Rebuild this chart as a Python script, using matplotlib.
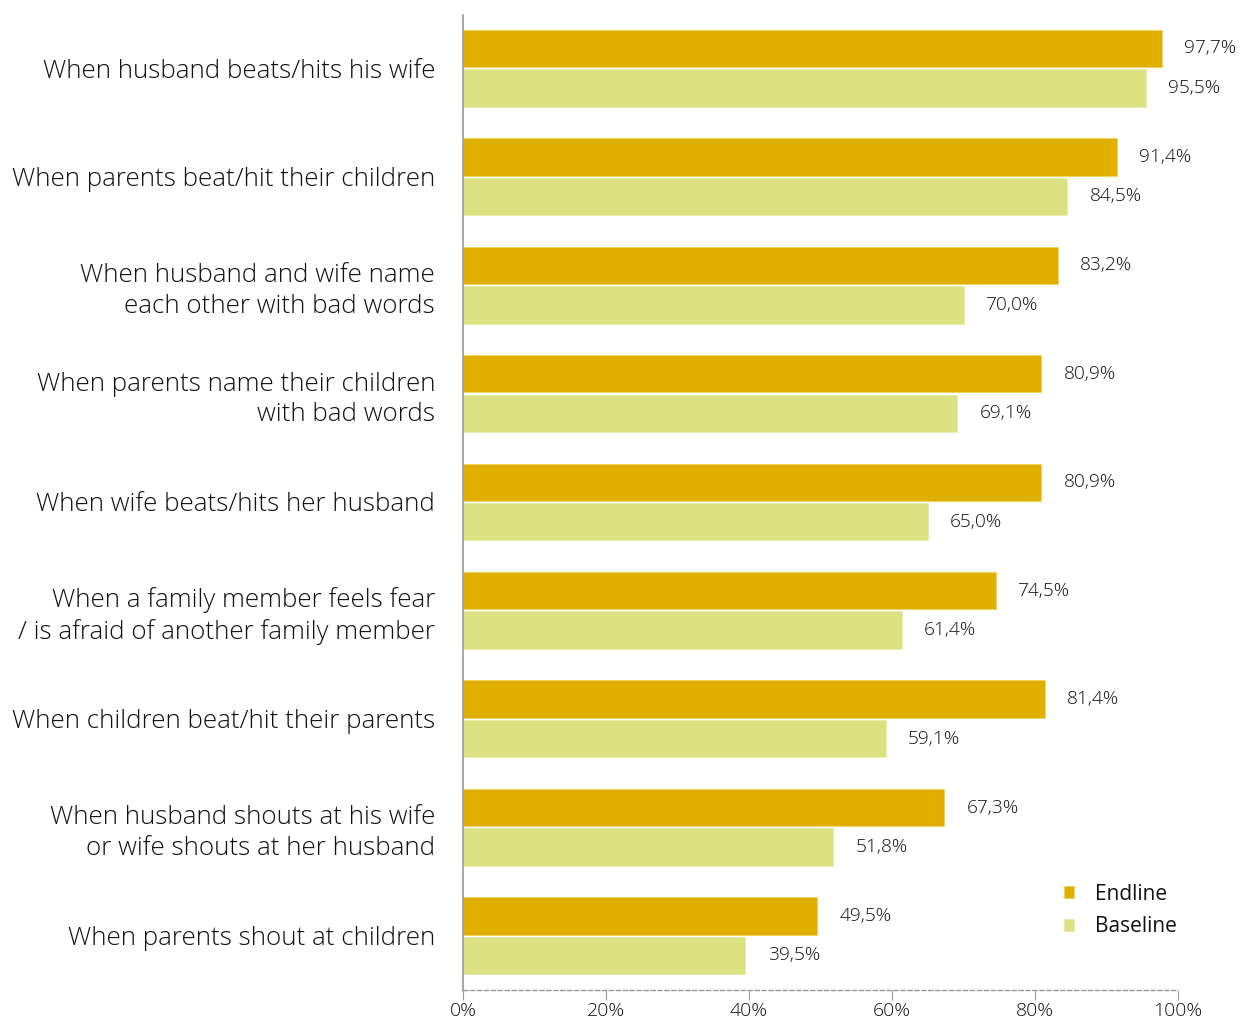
import matplotlib.pyplot as plt
import numpy as np

plt.rcParams['font.family'] = ['Open Sans', 'DejaVu Sans']

categories = [
    "When husband beats/hits his wife",
    "When parents beat/hit their children",
    "When husband and wife name\neach other with bad words",
    "When parents name their children\nwith bad words",
    "When wife beats/hits her husband",
    "When a family member feels fear\n/ is afraid of another family member",
    "When children beat/hit their parents",
    "When husband shouts at his wife\nor wife shouts at her husband",
    "When parents shout at children",
]
endline = [97.7, 91.4, 83.2, 80.9, 80.9, 74.5, 81.4, 67.3, 49.5]
baseline = [95.5, 84.5, 70.0, 69.1, 65.0, 61.4, 59.1, 51.8, 39.5]
xticks = [0, 20, 40, 60, 80, 100]

END_COLOR = "#E0B000"
BASE_COLOR = "#DCE182"
TEXT_COLOR = "#111111"

fig = plt.figure(figsize=(12.4, 10.23), dpi=100)
ax = fig.add_axes([0.3734, 0.0323, 0.5766, 0.953])

y = np.arange(len(categories))
h = 0.345
off = 0.182
ax.barh(y - off, endline, height=h, color=END_COLOR, edgecolor="#F0D060", linewidth=0.6, label="Endline")
ax.barh(y + off, baseline, height=h, color=BASE_COLOR, edgecolor="#E8EBA8", linewidth=0.6, label="Baseline")

def pct(v):
    return f"{v:.1f}%".replace(".", ",")

for yy, v in zip(y - off, endline):
    ax.annotate(pct(v), (v, yy), xytext=(16, 0), textcoords="offset points",
                va="center", ha="left", fontsize=13.8, color=TEXT_COLOR, fontweight="light")
for yy, v in zip(y + off, baseline):
    ax.annotate(pct(v), (v, yy), xytext=(16, 0), textcoords="offset points",
                va="center", ha="left", fontsize=13.8, color=TEXT_COLOR, fontweight="light")

ax.set_ylim(len(categories) - 0.5, -0.49)
ax.set_xlim(0, 100)
ax.set_yticks(y)
ax.set_yticklabels(categories, fontsize=18.7, color=TEXT_COLOR, fontweight="light",
                   linespacing=1.3, ha="right")
ax.tick_params(axis="y", length=0, pad=20)
ax.set_xticks(xticks)
ax.set_xticklabels([f"{t}%" for t in xticks], fontsize=14, color=TEXT_COLOR, fontweight="light")
ax.tick_params(axis="x", length=7, color="#999999", pad=2)

for s in ["top", "right"]:
    ax.spines[s].set_visible(False)
ax.spines["left"].set_color("#999999")
ax.spines["left"].set_linewidth(1.2)
ax.spines["bottom"].set_color("#999999")
ax.spines["bottom"].set_linestyle((0, (3, 2)))
ax.spines["bottom"].set_linewidth(1)

leg = ax.legend(loc="lower right", bbox_to_anchor=(1.025, 0.035), frameon=False,
                handlelength=0.5, handleheight=0.5, handletextpad=1.0,
                labelspacing=0.55, prop={"size": 15, "weight": "normal"})
for t in leg.get_texts():
    t.set_color("#111111")

fig.savefig("out.png", dpi=100, facecolor="white")
